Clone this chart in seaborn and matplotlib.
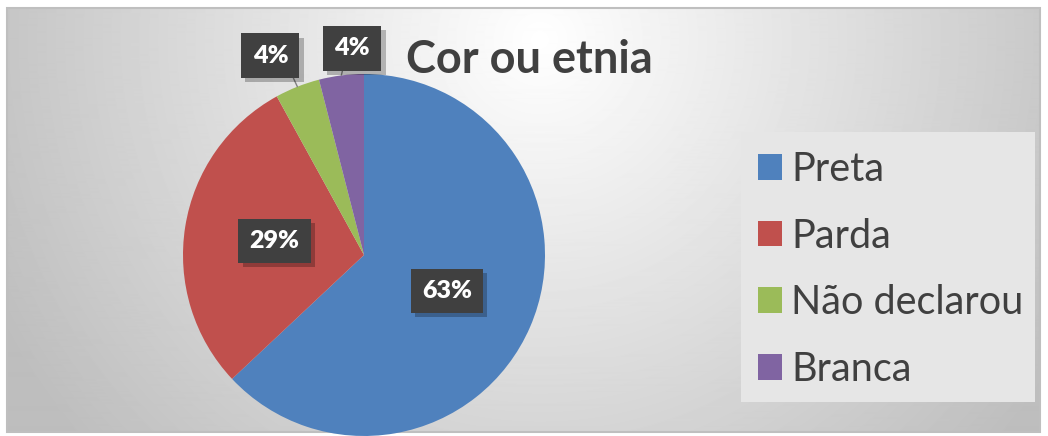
import numpy as np
import matplotlib
matplotlib.use("Agg")
import matplotlib.pyplot as plt
import matplotlib.patheffects as pe
from matplotlib.patches import Rectangle
import seaborn as sns

categories = ["Preta", "Parda", "Não declarou", "Branca"]
values = [63, 29, 4, 4]
palette = ["#4F81BD", "#C0504D", "#9BBB59", "#8064A2"]
title = "Cor ou etnia"

sns.set_theme(style="white")
plt.rcParams["font.family"] = ["Lato", "DejaVu Sans"]

W, H = 1048, 436
fig = plt.figure(figsize=(W / 100, H / 100), dpi=100)
fig.patch.set_facecolor("white")

# background with a radial grey gradient
bg = fig.add_axes([0, 0, 1, 1], zorder=0)
bg.set_xlim(0, W)
bg.set_ylim(H, 0)
bg.axis("off")
gx, gy = np.meshgrid(np.arange(7, 1041), np.arange(8, 433))
dist = np.hypot(gx - 540, gy - 40)
shade = np.clip(255 - 62 * dist / 580, 190, 255) / 255
bg.imshow(shade, cmap="gray", vmin=0, vmax=1, extent=[7, 1041, 433, 8],
          aspect="auto", interpolation="bilinear")
bg.add_patch(Rectangle((7, 8), 1033, 424, fill=False, edgecolor="#bfbfbf", lw=1.5))
bg.add_patch(Rectangle((741, 132), 294, 270, facecolor="#e6e6e6", edgecolor="none"))

ax = fig.add_axes([0, 0, 1, 1], zorder=2)
ax.patch.set_alpha(0)
cx, cy, r = 364, 181, 181
wedges, _, autotexts = ax.pie(
    values, colors=palette, startangle=90, counterclock=False,
    center=(cx, cy), radius=r, autopct="%1.0f%%", pctdistance=0.5,
    wedgeprops=dict(linewidth=0),
)
ax.set_xlim(0, W)
ax.set_ylim(0, H)
ax.set_aspect("equal")
ax.axis("off")

box = dict(boxstyle="square,pad=0.45", facecolor="#404040", edgecolor="none")
shadow = [pe.SimplePatchShadow(offset=(3, -3), shadow_rgbFace="black", alpha=0.25), pe.Normal()]
label_style = dict(color="white", fontsize=18, fontweight="heavy")

outside = {2: ((-27, 31), (1.0, 0.0)), 3: ((11, 27), (0.3, 0.0))}
for i, (w, t) in enumerate(zip(wedges, autotexts)):
    if i in outside:
        t.set_visible(False)
        mid = np.deg2rad((w.theta1 + w.theta2) / 2)
        ex, ey = cx + r * np.cos(mid), cy + r * np.sin(mid)
        off, rel = outside[i]
        a = ax.annotate(t.get_text(), xy=(ex, ey), xytext=off, textcoords="offset pixels",
                        ha="center", va="center", bbox=box, **label_style,
                        arrowprops=dict(arrowstyle="-", color="#808080", lw=1,
                                        relpos=rel, shrinkA=0, shrinkB=0))
        a.get_bbox_patch().set_path_effects(shadow)
    else:
        t.set(**label_style)
        t.set_bbox(box)
        t.get_bbox_patch().set_path_effects(shadow)

fig.text(529 / W, 1 - 60 / H, title, ha="center", va="center",
         fontsize=32.5, fontweight="bold", color="#404040")

leg = ax.legend(wedges, categories, loc="upper left", bbox_to_anchor=(742 / W, 1 - 135 / H),
                frameon=False, fontsize=28.5, labelcolor="#404040",
                handlelength=0.62, handleheight=0.62, handletextpad=0.22, labelspacing=0.75,
                borderaxespad=0)

fig.savefig("out.png", dpi=100)
